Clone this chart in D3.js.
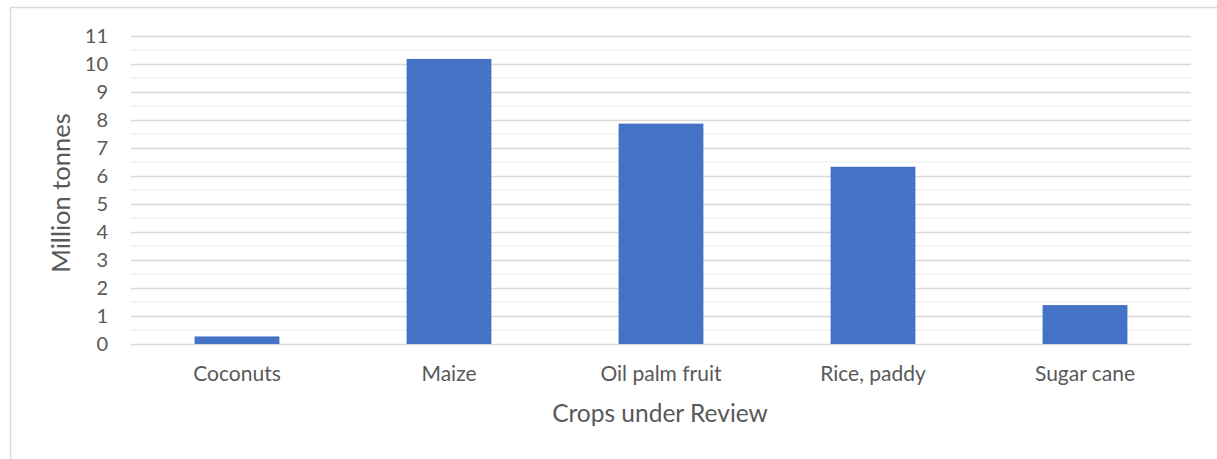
<!DOCTYPE html>
<html>
<head>
<meta charset="utf-8">
<script src="https://cdn.jsdelivr.net/npm/d3@7"></script>
<style>
  body { margin: 0; background: #fff; }
  text { font-family: Lato, "Open Sans", sans-serif; fill: #595959; }
</style>
</head>
<body>
<svg></svg>
<script>
// chart data
const crops = ["Coconuts", "Maize", "Oil palm fruit", "Rice, paddy", "Sugar cane"];
const production = [0.27, 10.18, 7.87, 6.33, 1.39];
const yTicks = [0, 1, 2, 3, 4, 5, 6, 7, 8, 9, 10, 11];

const W = 1217, H = 459;
const margin = { top: 36, right: 26, bottom: 115, left: 131 },
    width = W - margin.left - margin.right,
    height = H - margin.top - margin.bottom;

const svg = d3.select("svg")
    .attr("width", W)
    .attr("height", H);

// outer chart border (runs off right and bottom)
svg.append("rect")
    .attr("x", 10.5).attr("y", 7.5)
    .attr("width", W + 10).attr("height", H + 10)
    .attr("fill", "none")
    .attr("stroke", "#d9d9d9")
    .attr("stroke-width", 1.5);

const g = svg.append("g")
    .attr("transform", "translate(" + margin.left + "," + margin.top + ")");

const x = d3.scaleBand()
    .domain(crops)
    .range([0, width])
    .paddingInner(0.6)
    .paddingOuter(0.3);

const y = d3.scaleLinear().domain([0, 11]).range([height, 0]);

// minor gridlines at the halves
g.append("g")
    .selectAll("line")
    .data(d3.range(0.5, 11, 1))
    .join("line")
    .attr("x1", 0).attr("x2", width)
    .attr("y1", d => y(d)).attr("y2", d => y(d))
    .attr("stroke", "#f2f2f2")
    .attr("stroke-width", 1.3);

// major gridlines
g.append("g")
    .attr("class", "grid")
    .call(d3.axisLeft(y).tickValues(yTicks).tickSize(-width).tickFormat(""))
    .call(s => s.select(".domain").remove())
    .call(s => s.selectAll("line").attr("stroke", "#d9d9d9").attr("stroke-width", 1.3));

// y tick labels
g.append("g")
    .call(d3.axisLeft(y).tickValues(yTicks).tickSize(0).tickPadding(23))
    .call(s => s.select(".domain").remove())
    .call(s => s.selectAll("text").style("font-size", "20px").attr("fill", "#595959"));

// bars
g.selectAll(".bar")
    .data(crops)
    .join("rect")
    .attr("class", "bar")
    .attr("x", d => x(d))
    .attr("width", x.bandwidth())
    .attr("y", (d, i) => y(production[i]))
    .attr("height", (d, i) => height - y(production[i]))
    .attr("fill", "#4472c4");

// x axis labels
g.append("g")
    .attr("transform", "translate(0," + height + ")")
    .call(d3.axisBottom(x).tickSize(0).tickPadding(22))
    .call(s => s.select(".domain").remove())
    .call(s => s.selectAll("text").style("font-size", "21px").attr("fill", "#595959"));

// axis titles
svg.append("text")
    .attr("text-anchor", "middle")
    .attr("x", 660)
    .attr("y", 422)
    .style("font-size", "24.5px")
    .text("Crops under Review");

svg.append("text")
    .attr("text-anchor", "middle")
    .attr("transform", "translate(70,193) rotate(-90)")
    .style("font-size", "25.5px")
    .text("Million tonnes");
</script>
</body>
</html>
